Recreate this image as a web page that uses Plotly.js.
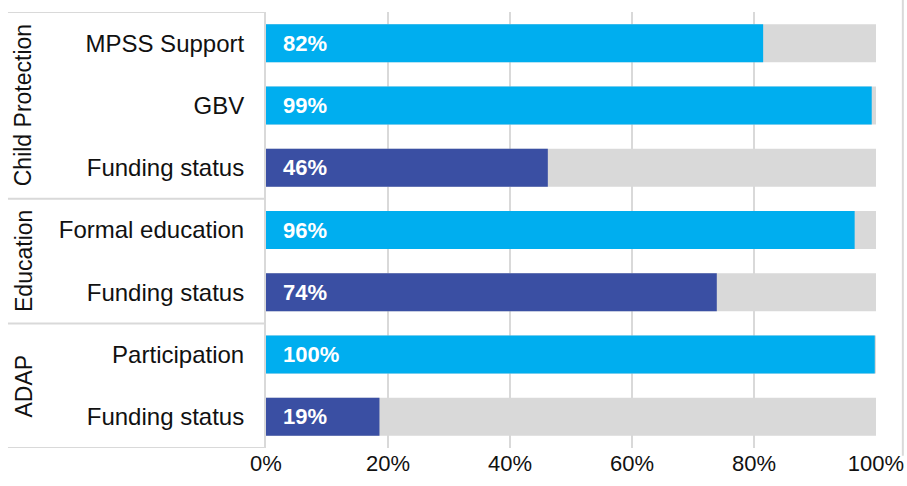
<!DOCTYPE html>
<html><head><meta charset="utf-8">
<script src="https://cdn.plot.ly/plotly-3.0.1.min.js"></script>
<style>html,body{margin:0;padding:0;background:#fff}#chart{width:907px;height:486px}</style>
</head><body><div id="chart"></div>
<script>
const groups = ['Child Protection','Child Protection','Child Protection','Education','Education','ADAP','ADAP'];
const categories = ['MPSS Support','GBV','Funding status','Formal education','Funding status','Participation','Funding status'];
const values = [81.5, 99.3, 46.2, 96.5, 73.9, 99.8, 18.6];
const valueLabels = ['82%','99%','46%','96%','74%','100%','19%'];
const isFunding = [false, false, true, false, true, false, true];
const totals = [100, 100, 100, 100, 100, 100, 100];
const xTicks = [0, 20, 40, 60, 80, 100];
const xTickText = ['0%','20%','40%','60%','80%','100%'];

const LIGHT = '#00AEEF', DARK = '#3A4FA3', GREY = '#D9D9D9', LINE = '#D9D9D9';
const FONT = 'Arial, Liberation Sans, sans-serif';
const idx = categories.map((_, i) => i);

const traces = [
  {type:'bar', orientation:'h', x: totals, y: idx, marker:{color:GREY}, width:0.61, hoverinfo:'skip'},
  {type:'bar', orientation:'h', x: values, y: idx, marker:{color: isFunding.map(f => f ? DARK : LIGHT)}, width:0.61, hoverinfo:'skip'}
];

const annotations = valueLabels.map((t, i) => ({
  x: 0, y: i, xref:'x', yref:'y', text: t, showarrow:false, xanchor:'left', xshift: 15,
  font:{family:FONT, size:22, color:'#fff', weight:'bold'}
}));

const uniq = [...new Set(groups)];
const shapes = [];
const boundaries = [-0.5];
uniq.forEach(g => {
  const ii = idx.filter(i => groups[i] === g);
  const mid = (Math.min(...ii) + Math.max(...ii)) / 2;
  annotations.push({x: -0.397, xref:'paper', y: mid, yref:'y', text: g, textangle:-90, showarrow:false,
    xanchor:'center', yanchor:'middle', font:{family:FONT, size:23, color:'#111'}});
  boundaries.push(Math.max(...ii) + 0.5);
});
boundaries.forEach(b => shapes.push({type:'line', xref:'paper', yref:'y', x0:-0.423, x1:0, y0:b, y1:b, line:{color:LINE, width:2}}));
shapes.push({type:'line', xref:'paper', yref:'paper', x0:1.044, x1:1.044, y0:-0.018, y1:1.03, line:{color:LINE, width:2}});

const layout = {
  width:907, height:486, margin:{l:266, r:31, t:12, b:38},
  paper_bgcolor:'#fff', plot_bgcolor:'#fff',
  barmode:'overlay', showlegend:false,
  font:{family:FONT, size:22, color:'#111'},
  xaxis:{range:[0,100], tickvals:xTicks, ticktext:xTickText, showgrid:true, gridcolor:LINE, gridwidth:1.5,
    zeroline:false, showline:false, ticks:'', tickfont:{size:22, color:'#111'}, fixedrange:true},
  yaxis:{range:[6.5,-0.5], tickvals:idx, ticktext:categories, showgrid:false, zeroline:false,
    showline:true, linecolor:LINE, linewidth:2, ticks:'', ticklabelstandoff:15,
    tickfont:{size:24, color:'#111'}, fixedrange:true},
  annotations, shapes
};
Plotly.newPlot('chart', traces, layout, {displayModeBar:false, staticPlot:true});
</script></body></html>
